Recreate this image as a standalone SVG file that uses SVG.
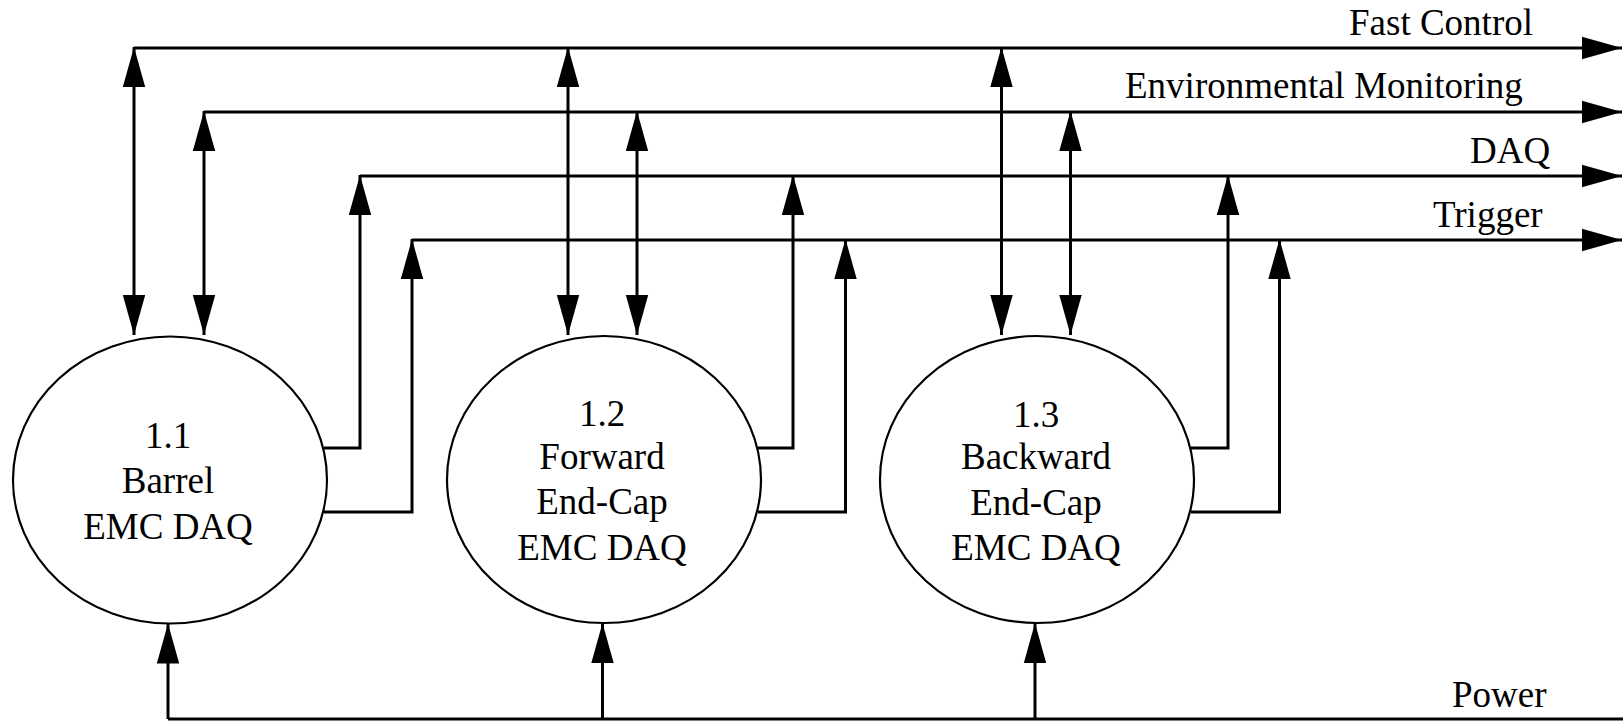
<svg xmlns="http://www.w3.org/2000/svg" width="1623" height="721" viewBox="0 0 1623 721">
  <style>
    .wire { fill: none; stroke: #000; stroke-width: 3; }
    .node { fill: #fff; stroke: #000; stroke-width: 2.2; }
    .ctr { text-anchor: middle; }
  </style>
  <defs>
    <marker id="arrow" viewBox="0 0 40 24" refX="40" refY="12" markerWidth="40" markerHeight="24" markerUnits="userSpaceOnUse" orient="auto-start-reverse">
      <path d="M0,0.8 L40,12 L0,23.2 Z" fill="#000"/>
    </marker>
  </defs>

  <rect width="1623" height="721" fill="#fff"/>

  <!-- connectors -->
  <g id="connectors">
    <!-- bus lines -->
    <line class="wire" x1="134" y1="48" x2="1622" y2="48" marker-end="url(#arrow)"/>
    <line class="wire" x1="204" y1="112" x2="1622" y2="112" marker-end="url(#arrow)"/>
    <line class="wire" x1="360" y1="176" x2="1622" y2="176" marker-end="url(#arrow)"/>
    <line class="wire" x1="412" y1="240" x2="1622" y2="240" marker-end="url(#arrow)"/>

    <!-- Fast Control, bidirectional -->
    <line class="wire" x1="134" y1="47" x2="134" y2="335" marker-start="url(#arrow)" marker-end="url(#arrow)"/>
    <line class="wire" x1="568" y1="47" x2="568" y2="335" marker-start="url(#arrow)" marker-end="url(#arrow)"/>
    <line class="wire" x1="1001.5" y1="47" x2="1001.5" y2="335" marker-start="url(#arrow)" marker-end="url(#arrow)"/>

    <!-- Environmental Monitoring, bidirectional -->
    <line class="wire" x1="204" y1="111" x2="204" y2="335" marker-start="url(#arrow)" marker-end="url(#arrow)"/>
    <line class="wire" x1="637" y1="111" x2="637" y2="335" marker-start="url(#arrow)" marker-end="url(#arrow)"/>
    <line class="wire" x1="1070.5" y1="111" x2="1070.5" y2="335" marker-start="url(#arrow)" marker-end="url(#arrow)"/>

    <!-- DAQ outputs -->
    <polyline class="wire" points="324,448 360,448 360,175" marker-end="url(#arrow)"/>
    <polyline class="wire" points="758,448 793,448 793,175" marker-end="url(#arrow)"/>
    <polyline class="wire" points="1191,448 1228,448 1228,175" marker-end="url(#arrow)"/>

    <!-- Trigger outputs -->
    <polyline class="wire" points="324,512 412,512 412,239" marker-end="url(#arrow)"/>
    <polyline class="wire" points="758,512 845.5,512 845.5,239" marker-end="url(#arrow)"/>
    <polyline class="wire" points="1191,512 1279.5,512 1279.5,239" marker-end="url(#arrow)"/>

    <!-- Power distribution -->
    <line class="wire" x1="168" y1="719" x2="1623" y2="719"/>
    <line class="wire" x1="168" y1="719" x2="168" y2="623.5" marker-end="url(#arrow)"/>
    <line class="wire" x1="602.5" y1="719" x2="602.5" y2="623" marker-end="url(#arrow)"/>
    <line class="wire" x1="1035" y1="719" x2="1035" y2="623" marker-end="url(#arrow)"/>
  </g>

  <g font-family="'Liberation Serif', 'Noto Serif', 'Nimbus Roman', 'FreeSerif', 'TeX Gyre Termes', Times, serif" font-size="37" fill="#000">
    <!-- bus labels -->
    <g id="bus-labels">
      <text x="1349" y="35">Fast Control</text>
      <text x="1125" y="98">Environmental Monitoring</text>
      <text x="1470" y="163">DAQ</text>
      <text x="1433" y="227">Trigger</text>
      <text x="1452" y="707">Power</text>
    </g>

    <!-- processing nodes -->
    <g id="node-1-1">
      <ellipse class="node" cx="170" cy="480" rx="157" ry="143.5"/>
      <text class="ctr" x="168" y="448">1.1</text>
      <text class="ctr" x="168" y="493">Barrel</text>
      <text class="ctr" x="168" y="539">EMC DAQ</text>
    </g>

    <g id="node-1-2">
      <ellipse class="node" cx="604" cy="479.5" rx="157" ry="143.5"/>
      <text class="ctr" x="602" y="426">1.2</text>
      <text class="ctr" x="602" y="468.5">Forward</text>
      <text class="ctr" x="602" y="514">End-Cap</text>
      <text class="ctr" x="602" y="559.5">EMC DAQ</text>
    </g>

    <g id="node-1-3">
      <ellipse class="node" cx="1037" cy="479.5" rx="157" ry="143.5"/>
      <text class="ctr" x="1036" y="426.5">1.3</text>
      <text class="ctr" x="1036" y="469">Backward</text>
      <text class="ctr" x="1036" y="514.5">End-Cap</text>
      <text class="ctr" x="1036" y="560">EMC DAQ</text>
    </g>
  </g>
</svg>
